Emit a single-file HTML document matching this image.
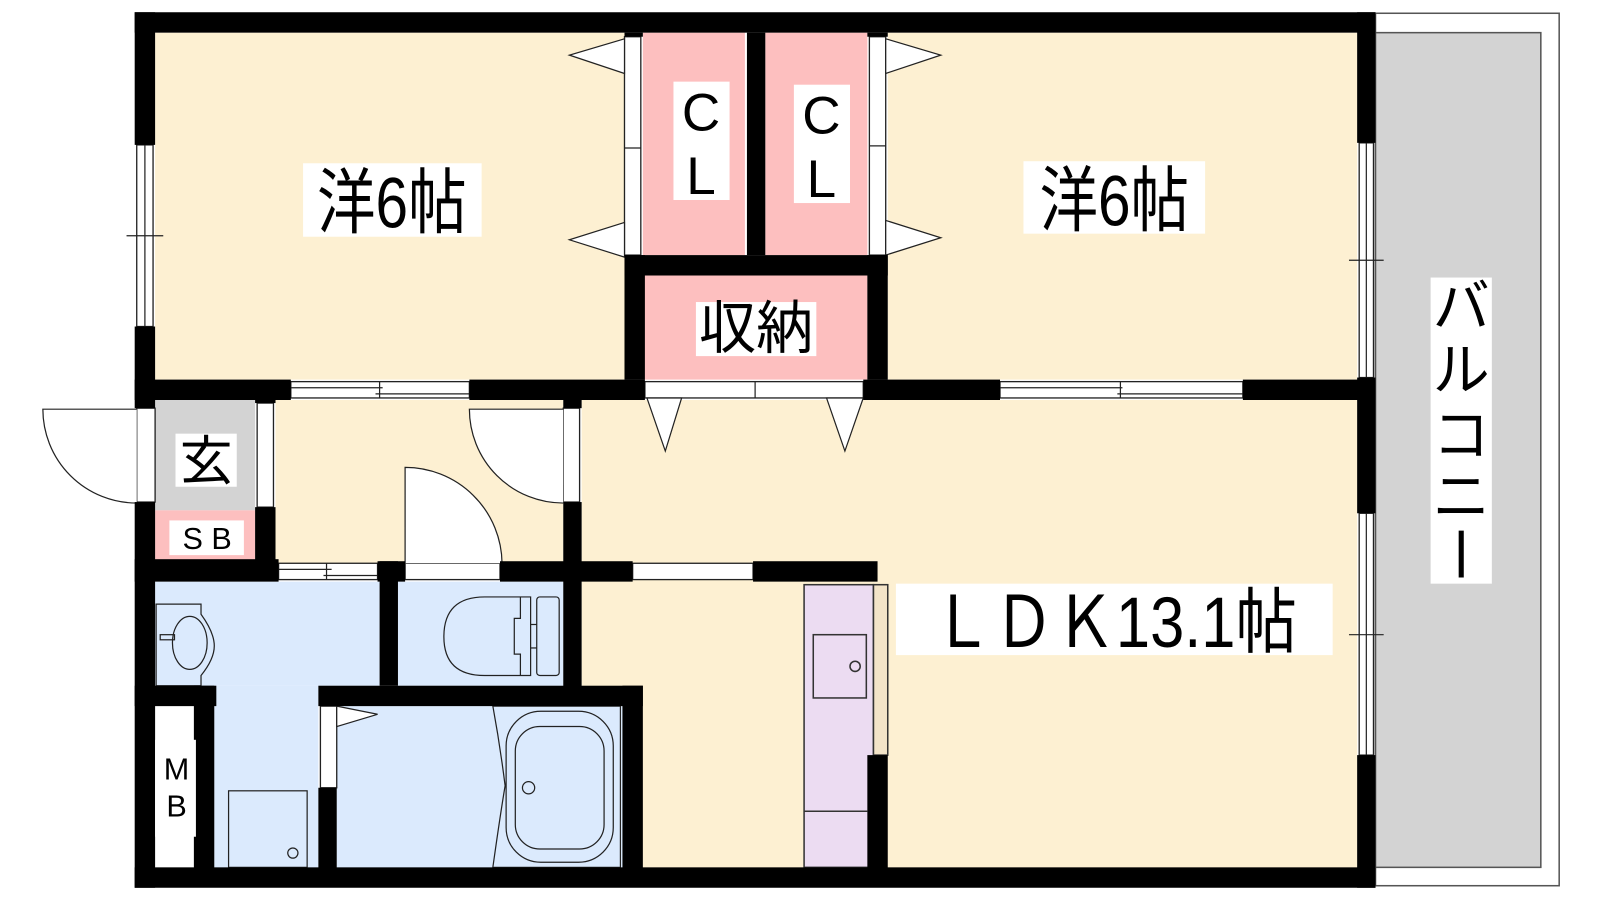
<!DOCTYPE html>
<html><head><meta charset="utf-8"><style>
html,body{margin:0;padding:0;background:#fff;width:1600px;height:900px;overflow:hidden}
svg{display:block}
text{font-family:"Liberation Sans","Noto Sans CJK JP",sans-serif;fill:#000}
</style></head><body>
<svg width="1600" height="900" viewBox="0 0 1568 882" preserveAspectRatio="none" xmlns="http://www.w3.org/2000/svg">
<!-- balcony -->
<rect x="1348" y="13" width="180" height="855" fill="#fff" stroke="#555" stroke-width="1.5"/>
<rect x="1348" y="32" width="162" height="818" fill="#d3d3d3" stroke="#555" stroke-width="1.5"/>
<!-- room fills -->
<g fill="#fdf0d2">
<rect x="152" y="32" width="460" height="340"/>
<rect x="870" y="32" width="460" height="340"/>
<rect x="270" y="392" width="282" height="160"/>
<rect x="570" y="392" width="760" height="460"/>
</g>
<g fill="#fdbfbf">
<rect x="630" y="32" width="100" height="218"/>
<rect x="750" y="32" width="100" height="218"/>
<rect x="630" y="270" width="220" height="102"/>
<rect x="152" y="500" width="98" height="50"/>
</g>
<rect x="152" y="392" width="98" height="108" fill="#d3d3d3"/>
<g fill="#dbeafd">
<rect x="152" y="570" width="220" height="102"/>
<rect x="210" y="672" width="102" height="180"/>
<rect x="390" y="570" width="162" height="102"/>
<rect x="330" y="692" width="280" height="160"/>
</g>
<rect x="152" y="692" width="38" height="160" fill="#fff"/>
<rect x="788" y="573" width="68" height="277" fill="#ecdcf2" stroke="#333" stroke-width="1.5"/>
<rect x="856" y="573" width="14" height="167" fill="#f3e4c8" stroke="#333" stroke-width="1.5"/>
<line x1="788" y1="795" x2="850" y2="795" stroke="#333" stroke-width="1.5"/>
<rect x="797" y="622" width="52" height="62" fill="none" stroke="#333" stroke-width="1.5"/>
<circle cx="838" cy="653" r="5" fill="none" stroke="#333" stroke-width="1.5"/>

<!-- windows / door strips -->
<g fill="#fff" stroke="#222" stroke-width="1.3">
<rect x="134" y="142" width="16" height="178"/>
<rect x="1332" y="140" width="14" height="230"/>
<rect x="1332" y="503" width="14" height="237"/>
<rect x="285" y="374" width="175" height="16"/>
<rect x="980" y="374" width="238" height="16"/>
<rect x="632" y="374" width="214" height="16"/>
<rect x="273" y="552" width="97" height="16"/>
<rect x="612" y="36" width="16" height="214"/>
<rect x="852" y="36" width="16" height="214"/>
<rect x="252" y="395" width="16" height="102"/>
<rect x="134" y="400" width="18" height="92"/>
<rect x="552" y="400" width="16" height="92"/>
<rect x="397" y="552" width="93" height="16"/>
<rect x="314" y="692" width="16" height="80"/>
<rect x="620" y="552" width="118" height="16"/>
</g>
<g stroke="#222" stroke-width="1.2" fill="none">
<line x1="142" y1="142" x2="142" y2="320"/><line x1="124" y1="231" x2="160" y2="231"/>
<line x1="1339" y1="140" x2="1339" y2="370"/><line x1="1322" y1="255" x2="1356" y2="255"/>
<line x1="1339" y1="503" x2="1339" y2="740"/><line x1="1322" y1="622" x2="1356" y2="622"/>
<line x1="285" y1="380" x2="375" y2="380"/><line x1="368" y1="386" x2="460" y2="386"/><line x1="372" y1="374" x2="372" y2="390"/>
<line x1="980" y1="380" x2="1100" y2="380"/><line x1="1095" y1="386" x2="1218" y2="386"/><line x1="1098" y1="374" x2="1098" y2="390"/>
<line x1="273" y1="558" x2="325" y2="558"/><line x1="317" y1="564" x2="370" y2="564"/><line x1="320" y1="552" x2="320" y2="568"/>
<line x1="740" y1="374" x2="740" y2="390"/>
<line x1="612" y1="145" x2="628" y2="145"/><line x1="852" y1="143" x2="868" y2="143"/>
<polygon points="612,38 558,54 612,72" fill="#fff"/>
<polygon points="612,218 558,235 612,252" fill="#fff"/>
<polygon points="868,38 922,54 868,72" fill="#fff"/>
<polygon points="868,216 922,233 868,250" fill="#fff"/>
<polygon points="634,390 652,442 668,390" fill="#fff"/>
<polygon points="810,390 828,442 846,390" fill="#fff"/>
<polygon points="330,692 370,700 330,712" fill="#fff"/>
<path d="M134,401 L42,401 A92,92 0 0 0 134,493" fill="#fff"/>
<path d="M552,401 L460,401 A92,92 0 0 0 552,493" fill="#fff"/>
<path d="M397,552 L397,458 A95,95 0 0 1 492,552" fill="#fff"/>
<path d="M153,592 L197,592 L197,602 Q210,620 210,633 Q210,646 197,662 L197,672 L153,672 Z" fill="#dbeafd"/>
<ellipse cx="186" cy="630" rx="17" ry="26"/>
<rect x="157" y="622" width="14" height="5"/>
<path d="M480,585 L520,585 L520,662 L480,662 L475,662 Q435,662 435,624 Q435,585 475,585 Z"/>
<path d="M510,585 L510,606 L504,606 L504,641 L510,641 L510,662"/>
<rect x="526" y="585" width="22" height="77" rx="3"/>
<line x1="520" y1="612" x2="526" y2="612"/><line x1="520" y1="635" x2="526" y2="635"/>
<path d="M483,692 L608,692 L608,850 L483,850 Q490,800 495,770 Q490,730 483,692 Z" fill="#dbeafd"/>
<rect x="496" y="697" width="105" height="148" rx="34"/>
<rect x="505" y="712" width="87" height="120" rx="24"/>
<circle cx="518" cy="772" r="6"/>
<rect x="224" y="775" width="77" height="75"/>
<circle cx="287" cy="836" r="5"/>
</g>

<!-- walls -->
<g fill="#000">
<rect x="132" y="12" width="1216" height="20"/>
<rect x="132" y="850" width="1216" height="20"/>
<rect x="132" y="12" width="20" height="130"/>
<rect x="132" y="320" width="20" height="80"/>
<rect x="132" y="492" width="20" height="378"/>
<rect x="1330" y="12" width="18" height="128"/>
<rect x="1330" y="370" width="18" height="133"/>
<rect x="1330" y="740" width="18" height="130"/>
<rect x="132" y="372" width="153" height="20"/>
<rect x="460" y="372" width="172" height="20"/>
<rect x="846" y="372" width="134" height="20"/>
<rect x="1218" y="372" width="130" height="20"/>
<rect x="612" y="250" width="20" height="122"/>
<rect x="612" y="32" width="18" height="4"/>
<rect x="732" y="32" width="18" height="218"/>
<rect x="850" y="32" width="20" height="4"/>
<rect x="850" y="250" width="20" height="122"/>
<rect x="612" y="250" width="258" height="20"/>
<rect x="250" y="392" width="20" height="3"/>
<rect x="250" y="497" width="20" height="55"/>
<rect x="552" y="392" width="18" height="8"/>
<rect x="552" y="492" width="18" height="198"/>
<rect x="132" y="548" width="141" height="22"/>
<rect x="370" y="550" width="27" height="20"/>
<rect x="490" y="550" width="130" height="20"/>
<rect x="738" y="550" width="122" height="20"/>
<rect x="372" y="550" width="18" height="122"/>
<rect x="132" y="672" width="80" height="20"/>
<rect x="190" y="672" width="20" height="180"/>
<rect x="312" y="672" width="318" height="20"/>
<rect x="312" y="772" width="18" height="80"/>
<rect x="610" y="672" width="20" height="180"/>
<rect x="850" y="740" width="20" height="112"/>
</g>

<!-- labels -->
<g fill="#fff">
<rect x="297" y="160" width="175" height="72"/>
<rect x="1003" y="158" width="178" height="71"/>
<rect x="660" y="80" width="55" height="116"/>
<rect x="778" y="83" width="55" height="116"/>
<rect x="682" y="296" width="118" height="53"/>
<rect x="172" y="425" width="60" height="52"/>
<rect x="166" y="510" width="73" height="34"/>
<rect x="152" y="725" width="40" height="95"/>
<rect x="878" y="572" width="428" height="70"/>
<rect x="1402" y="272" width="60" height="300"/>
</g>
<text x="384" y="223" font-size="70" text-anchor="middle" transform="translate(384,0) scale(0.82,1) translate(-384,0)">洋6帖</text>
<text x="1092" y="221" font-size="70" text-anchor="middle" transform="translate(1092,0) scale(0.82,1) translate(-1092,0)">洋6帖</text>
<text x="687" y="128" font-size="52" text-anchor="middle">C</text>
<text x="687" y="190" font-size="52" text-anchor="middle">L</text>
<text x="805" y="131" font-size="52" text-anchor="middle">C</text>
<text x="805" y="193" font-size="52" text-anchor="middle">L</text>
<text x="741" y="341" font-size="56" text-anchor="middle">収納</text>
<text x="202" y="470" font-size="52" text-anchor="middle">玄</text>
<text x="203" y="538" font-size="30" text-anchor="middle">S B</text>
<text x="173" y="764" font-size="30" text-anchor="middle">M</text>
<text x="173" y="800" font-size="30" text-anchor="middle">B</text>
<text x="1092" y="634" font-size="70" text-anchor="middle" transform="translate(1092,0) scale(0.86,1) translate(-1092,0)">ＬＤＫ13.1帖</text>
<text x="1432" y="320" font-size="56" text-anchor="middle">バ</text>
<text x="1432" y="382" font-size="56" text-anchor="middle">ル</text>
<text x="1432" y="446" font-size="56" text-anchor="middle">コ</text>
<text x="1432" y="506" font-size="56" text-anchor="middle">ニ</text>
<line x1="1432" y1="520" x2="1432" y2="566" stroke="#000" stroke-width="5"/>
</svg>
</body></html>
